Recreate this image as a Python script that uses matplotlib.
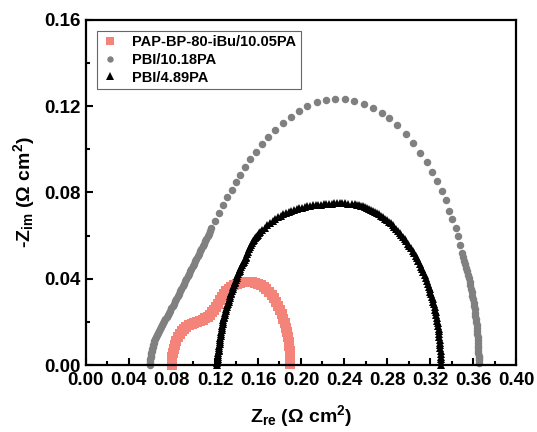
import matplotlib
matplotlib.use("Agg")
import matplotlib.pyplot as plt
import matplotlib.ticker as ticker

plt.rcParams['font.family'] = ['Liberation Sans', 'DejaVu Sans']
plt.rcParams['font.weight'] = 'bold'
plt.rcParams['mathtext.fontset'] = 'custom'
plt.rcParams['mathtext.rm'] = 'Liberation Sans:bold'
plt.rcParams['mathtext.it'] = 'Liberation Sans:bold'
plt.rcParams['mathtext.bf'] = 'Liberation Sans:bold'
plt.rcParams['mathtext.default'] = 'rm'

labels = ["PAP-BP-80-iBu/10.05PA", "PBI/10.18PA", "PBI/4.89PA"]

# PAP-BP-80-iBu/10.05PA
pap_x = [0.0797, 0.0799, 0.0805, 0.0811, 0.0819, 0.0829, 0.0842, 0.0857, 0.0874, 0.0892,
         0.0912, 0.0934, 0.0958, 0.0983, 0.1009, 0.1035, 0.1060, 0.1087, 0.1112, 0.1133,
         0.1153, 0.1172, 0.1191, 0.1210, 0.1228, 0.1246, 0.1265, 0.1285, 0.1307, 0.1330,
         0.1353, 0.1379, 0.1405, 0.1432, 0.1460, 0.1488, 0.1516, 0.1544, 0.1572, 0.1600,
         0.1628, 0.1654, 0.1679, 0.1703, 0.1726, 0.1747, 0.1767, 0.1787, 0.1805, 0.1822,
         0.1837, 0.1849, 0.1860, 0.1870, 0.1879, 0.1885, 0.1891, 0.1895, 0.1898, 0.1899,
         0.1900]
pap_y = [0.0000, 0.0019, 0.0037, 0.0056, 0.0074, 0.0093, 0.0112, 0.0128, 0.0144, 0.0156,
         0.0167, 0.0176, 0.0184, 0.0190, 0.0195, 0.0200, 0.0205, 0.0210, 0.0216, 0.0224,
         0.0233, 0.0244, 0.0256, 0.0270, 0.0284, 0.0300, 0.0316, 0.0331, 0.0344, 0.0354,
         0.0363, 0.0371, 0.0377, 0.0381, 0.0384, 0.0386, 0.0386, 0.0384, 0.0381, 0.0377,
         0.0372, 0.0364, 0.0353, 0.0340, 0.0326, 0.0310, 0.0293, 0.0275, 0.0256, 0.0235,
         0.0214, 0.0193, 0.0172, 0.0151, 0.0130, 0.0109, 0.0088, 0.0067, 0.0047, 0.0026,
         0.0005]

# PBI/10.18PA
pbi10_x = [0.0595, 0.0596, 0.0598, 0.0600, 0.0603, 0.0606, 0.0609, 0.0613, 0.0617, 0.0621,
           0.0626, 0.0631, 0.0637, 0.0644, 0.0651, 0.0659, 0.0668, 0.0677, 0.0687, 0.0697,
           0.0707, 0.0717, 0.0728, 0.0739, 0.0751, 0.0761, 0.0772, 0.0783, 0.0795, 0.0807,
           0.0819, 0.0830, 0.0842, 0.0853, 0.0865, 0.0876, 0.0888, 0.0900, 0.0912, 0.0923,
           0.0935, 0.0946, 0.0958, 0.0969, 0.0981, 0.0993, 0.1005, 0.1016, 0.1028, 0.1039,
           0.1051, 0.1062, 0.1074, 0.1086, 0.1098, 0.1109, 0.1121, 0.1132, 0.1144, 0.1155,
           0.1167, 0.1200, 0.1240, 0.1277, 0.1314, 0.1355, 0.1395, 0.1437, 0.1479, 0.1526,
           0.1577, 0.1633, 0.1693, 0.1758, 0.1830, 0.1904, 0.1984, 0.2059, 0.2146, 0.2233,
           0.2319, 0.2409, 0.2496, 0.2588, 0.2672, 0.2753, 0.2821, 0.2890, 0.2977, 0.3045,
           0.3107, 0.3169, 0.3216, 0.3262, 0.3309, 0.3346, 0.3377, 0.3407, 0.3439, 0.3458,
           0.3479, 0.3500, 0.3510, 0.3519, 0.3528, 0.3537, 0.3545, 0.3553, 0.3561, 0.3568,
           0.3575, 0.3581, 0.3587, 0.3593, 0.3599, 0.3605, 0.3610, 0.3614, 0.3618, 0.3622,
           0.3626, 0.3630, 0.3633, 0.3636, 0.3639, 0.3641, 0.3643, 0.3645, 0.3646, 0.3647,
           0.3648, 0.3649, 0.3650, 0.3651, 0.3652, 0.3652, 0.3653]
pbi10_y = [0.0000, 0.0009, 0.0019, 0.0028, 0.0037, 0.0047, 0.0056, 0.0065, 0.0074, 0.0084,
           0.0093, 0.0102, 0.0112, 0.0121, 0.0130, 0.0140, 0.0149, 0.0158, 0.0167, 0.0177,
           0.0186, 0.0195, 0.0205, 0.0214, 0.0223, 0.0233, 0.0242, 0.0252, 0.0263, 0.0273,
           0.0284, 0.0296, 0.0307, 0.0318, 0.0330, 0.0341, 0.0353, 0.0365, 0.0377, 0.0388,
           0.0400, 0.0411, 0.0423, 0.0435, 0.0447, 0.0458, 0.0470, 0.0481, 0.0493, 0.0504,
           0.0516, 0.0528, 0.0540, 0.0551, 0.0563, 0.0574, 0.0586, 0.0597, 0.0609, 0.0621,
           0.0633, 0.0670, 0.0707, 0.0742, 0.0777, 0.0812, 0.0847, 0.0881, 0.0916, 0.0953,
           0.0988, 0.1023, 0.1056, 0.1088, 0.1121, 0.1149, 0.1177, 0.1200, 0.1217, 0.1228,
           0.1233, 0.1233, 0.1225, 0.1209, 0.1191, 0.1167, 0.1143, 0.1112, 0.1070, 0.1028,
           0.0985, 0.0943, 0.0896, 0.0853, 0.0806, 0.0763, 0.0716, 0.0678, 0.0636, 0.0597,
           0.0558, 0.0520, 0.0502, 0.0484, 0.0468, 0.0451, 0.0435, 0.0419, 0.0403, 0.0386,
           0.0370, 0.0353, 0.0337, 0.0321, 0.0305, 0.0288, 0.0273, 0.0258, 0.0243, 0.0228,
           0.0214, 0.0200, 0.0186, 0.0172, 0.0158, 0.0144, 0.0130, 0.0116, 0.0102, 0.0088,
           0.0077, 0.0065, 0.0054, 0.0042, 0.0032, 0.0023, 0.0010]

# PBI/4.89PA
pbi4_x = [0.1221, 0.1222, 0.1224, 0.1226, 0.1228, 0.1230, 0.1232, 0.1234, 0.1236, 0.1238,
          0.1241, 0.1243, 0.1246, 0.1248, 0.1251, 0.1253, 0.1256, 0.1259, 0.1262, 0.1265,
          0.1269, 0.1272, 0.1276, 0.1279, 0.1283, 0.1287, 0.1291, 0.1295, 0.1300, 0.1305,
          0.1310, 0.1315, 0.1321, 0.1326, 0.1332, 0.1337, 0.1343, 0.1348, 0.1353, 0.1358,
          0.1364, 0.1370, 0.1377, 0.1383, 0.1390, 0.1396, 0.1402, 0.1409, 0.1416, 0.1423,
          0.1430, 0.1437, 0.1445, 0.1452, 0.1460, 0.1468, 0.1476, 0.1484, 0.1492, 0.1500,
          0.1508, 0.1516, 0.1524, 0.1532, 0.1541, 0.1550, 0.1559, 0.1568, 0.1578, 0.1588,
          0.1598, 0.1608, 0.1619, 0.1641, 0.1664, 0.1688, 0.1712, 0.1736, 0.1761, 0.1786,
          0.1810, 0.1835, 0.1860, 0.1885, 0.1910, 0.1935, 0.1960, 0.1985, 0.2010, 0.2035,
          0.2060, 0.2085, 0.2110, 0.2135, 0.2160, 0.2185, 0.2210, 0.2235, 0.2260, 0.2285,
          0.2310, 0.2335, 0.2360, 0.2385, 0.2410, 0.2439, 0.2479, 0.2498, 0.2518, 0.2537,
          0.2557, 0.2576, 0.2595, 0.2614, 0.2633, 0.2652, 0.2671, 0.2690, 0.2708, 0.2727,
          0.2745, 0.2763, 0.2781, 0.2799, 0.2816, 0.2834, 0.2851, 0.2868, 0.2885, 0.2901,
          0.2917, 0.2933, 0.2949, 0.2965, 0.2980, 0.2995, 0.3009, 0.3024, 0.3038, 0.3052,
          0.3065, 0.3078, 0.3091, 0.3103, 0.3116, 0.3127, 0.3139, 0.3150, 0.3161, 0.3171,
          0.3181, 0.3189, 0.3196, 0.3204, 0.3211, 0.3217, 0.3224, 0.3230, 0.3236, 0.3242,
          0.3248, 0.3253, 0.3258, 0.3263, 0.3267, 0.3271, 0.3275, 0.3279, 0.3282, 0.3285,
          0.3288, 0.3291, 0.3293, 0.3295, 0.3297, 0.3299, 0.3300, 0.3301, 0.3301, 0.3302,
          0.3302]
pbi4_y = [0.0000, 0.0009, 0.0018, 0.0027, 0.0036, 0.0045, 0.0054, 0.0063, 0.0072, 0.0081,
          0.0090, 0.0099, 0.0108, 0.0117, 0.0126, 0.0135, 0.0144, 0.0153, 0.0162, 0.0171,
          0.0180, 0.0189, 0.0198, 0.0207, 0.0216, 0.0225, 0.0234, 0.0243, 0.0251, 0.0260,
          0.0268, 0.0277, 0.0285, 0.0294, 0.0302, 0.0311, 0.0319, 0.0328, 0.0336, 0.0345,
          0.0353, 0.0362, 0.0370, 0.0379, 0.0387, 0.0396, 0.0404, 0.0413, 0.0421, 0.0430,
          0.0438, 0.0447, 0.0455, 0.0463, 0.0471, 0.0479, 0.0487, 0.0495, 0.0503, 0.0514,
          0.0525, 0.0538, 0.0549, 0.0558, 0.0566, 0.0574, 0.0581, 0.0588, 0.0594, 0.0600,
          0.0605, 0.0610, 0.0615, 0.0626, 0.0637, 0.0648, 0.0659, 0.0668, 0.0677, 0.0685,
          0.0692, 0.0698, 0.0704, 0.0709, 0.0714, 0.0718, 0.0722, 0.0726, 0.0729, 0.0732,
          0.0735, 0.0738, 0.0740, 0.0742, 0.0743, 0.0744, 0.0745, 0.0746, 0.0747, 0.0748,
          0.0749, 0.0749, 0.0750, 0.0750, 0.0750, 0.0748, 0.0746, 0.0745, 0.0743, 0.0740,
          0.0738, 0.0735, 0.0731, 0.0727, 0.0723, 0.0719, 0.0714, 0.0709, 0.0704, 0.0698,
          0.0692, 0.0686, 0.0679, 0.0672, 0.0664, 0.0657, 0.0649, 0.0640, 0.0632, 0.0623,
          0.0614, 0.0604, 0.0594, 0.0584, 0.0574, 0.0563, 0.0552, 0.0541, 0.0530, 0.0518,
          0.0506, 0.0494, 0.0481, 0.0469, 0.0456, 0.0443, 0.0430, 0.0416, 0.0402, 0.0389,
          0.0375, 0.0363, 0.0352, 0.0340, 0.0328, 0.0317, 0.0305, 0.0293, 0.0281, 0.0268,
          0.0256, 0.0244, 0.0231, 0.0219, 0.0206, 0.0194, 0.0181, 0.0169, 0.0156, 0.0143,
          0.0130, 0.0117, 0.0104, 0.0091, 0.0078, 0.0065, 0.0052, 0.0039, 0.0026, 0.0013,
          0.0000]

fig = plt.figure(figsize=(5.37, 4.32), dpi=100)
ax = fig.add_axes([0.160, 0.155, 0.801, 0.799])

ax.plot(pap_x, pap_y, 's', color='#F4847A', markersize=7, markeredgewidth=0,
        label=labels[0], clip_on=False)
ax.plot(pbi10_x, pbi10_y, 'o', color='#808080', markersize=5.4, markeredgewidth=0,
        label=labels[1], clip_on=False)
ax.plot(pbi4_x, pbi4_y, '^', color='black', markersize=6.3, markeredgewidth=0,
        label=labels[2], clip_on=False)

ax.set_xlim(0, 0.40)
ax.set_ylim(0, 0.16)
ax.xaxis.set_major_locator(ticker.MultipleLocator(0.04))
ax.xaxis.set_minor_locator(ticker.MultipleLocator(0.02))
ax.yaxis.set_major_locator(ticker.MultipleLocator(0.04))
ax.yaxis.set_minor_locator(ticker.MultipleLocator(0.02))
ax.xaxis.set_major_formatter(ticker.FormatStrFormatter('%.2f'))
ax.yaxis.set_major_formatter(ticker.FormatStrFormatter('%.2f'))

ax.tick_params(which='both', direction='in', top=False, right=False, width=1.5)
ax.tick_params(which='major', length=5, labelsize=13.5)
ax.tick_params(axis='x', which='major', pad=5)
ax.tick_params(axis='y', which='major', pad=4)
ax.tick_params(which='minor', length=3)
for s in ax.spines.values():
    s.set_linewidth(1.6)

ax.set_xlabel('Z$_{\\mathrm{re}}$ (\u03a9 cm$^{2}$)', fontsize=14, fontweight='bold', labelpad=10)
ax.set_ylabel('-Z$_{\\mathrm{im}}$ (\u03a9 cm$^{2}$)', fontsize=14, fontweight='bold', labelpad=5)

leg = ax.legend(loc='upper left', bbox_to_anchor=(0.026, 0.968), borderaxespad=0,
                fancybox=False, edgecolor='#404040', fontsize=10.5, handlelength=1.2,
                handletextpad=0.9, labelspacing=0.25, borderpad=0.3, markerscale=0.85)
leg.get_frame().set_linewidth(0.8)

fig.savefig('out.png', dpi=100)
